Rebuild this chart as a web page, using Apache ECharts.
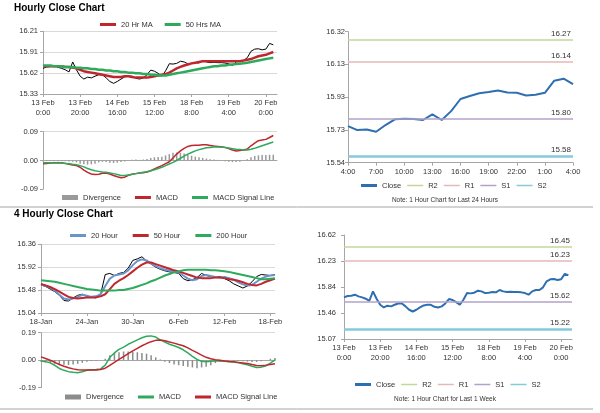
<!DOCTYPE html>
<html><head><meta charset="utf-8">
<script src="https://cdn.jsdelivr.net/npm/echarts@6/dist/echarts.min.js"></script>
<style>html,body{margin:0;padding:0;background:#fff}#c{width:600px;height:413px}</style>
</head><body><div id="c"></div>
<script>
// ---------- data ----------
// hourly axis (2-hour samples), 13 Feb 0:00 .. 20 Feb 4:00
const hourTicks = ['13 Feb\n0:00','13 Feb\n20:00','14 Feb\n16:00','15 Feb\n12:00','18 Feb\n8:00','19 Feb\n4:00','20 Feb\n0:00'];
const hourlyClose = [15.69,15.71,15.715,15.73,15.705,15.69,15.67,15.64,15.78,15.67,
  15.58,15.54,15.566,15.556,15.58,15.60,15.60,15.556,15.506,15.48,
  15.506,15.54,15.57,15.58,15.58,15.55,15.54,15.556,15.60,15.665,
  15.65,15.62,15.58,15.655,15.755,15.75,15.76,15.79,15.78,15.755,
  15.76,15.77,15.765,15.80,15.78,15.77,15.775,15.77,15.77,15.765,
  15.755,15.73,15.78,15.80,15.80,15.84,15.93,15.96,15.965,15.95,
  15.96,16.04,16.02];
const ma20Hr = [15.72,15.72,15.72,15.72,15.72,15.72,15.71,15.71,15.70,15.69,
  15.67,15.65,15.64,15.63,15.62,15.61,15.60,15.59,15.58,15.57,
  15.57,15.57,15.58,15.58,15.57,15.56,15.56,15.56,15.56,15.57,
  15.58,15.59,15.60,15.61,15.63,15.66,15.69,15.71,15.73,15.745,
  15.76,15.77,15.78,15.79,15.79,15.79,15.79,15.79,15.79,15.79,
  15.79,15.79,15.79,15.79,15.80,15.81,15.82,15.84,15.86,15.87,
  15.88,15.90,15.92];
const ma50Hr = [15.73,15.73,15.73,15.72,15.72,15.72,15.71,15.71,15.71,15.70,
  15.70,15.69,15.69,15.68,15.68,15.67,15.67,15.66,15.66,15.65,
  15.65,15.64,15.64,15.63,15.63,15.62,15.62,15.61,15.61,15.60,
  15.60,15.59,15.59,15.59,15.60,15.61,15.62,15.63,15.64,15.65,
  15.66,15.67,15.68,15.69,15.70,15.71,15.72,15.72,15.73,15.73,
  15.74,15.745,15.75,15.755,15.76,15.77,15.78,15.79,15.80,15.81,
  15.82,15.83,15.84];
const macdHr = [-0.010,-0.009,-0.008,-0.007,-0.007,-0.007,-0.009,-0.012,-0.014,-0.016,
  -0.021,-0.030,-0.037,-0.042,-0.044,-0.043,-0.040,-0.039,-0.042,-0.047,
  -0.051,-0.054,-0.052,-0.046,-0.043,-0.041,-0.039,-0.038,-0.036,-0.032,
  -0.026,-0.021,-0.016,-0.010,-0.004,0.008,0.020,0.030,0.038,0.044,
  0.047,0.048,0.048,0.049,0.049,0.047,0.045,0.044,0.043,0.041,
  0.037,0.033,0.030,0.031,0.033,0.036,0.046,0.054,0.062,0.064,
  0.066,0.072,0.078];
const signalHr = [-0.007,-0.007,-0.007,-0.008,-0.008,-0.008,-0.009,-0.010,-0.012,-0.013,
  -0.016,-0.020,-0.025,-0.029,-0.032,-0.034,-0.036,-0.037,-0.039,-0.041,
  -0.044,-0.047,-0.047,-0.045,-0.043,-0.041,-0.039,-0.037,-0.035,-0.032,
  -0.029,-0.025,-0.021,-0.016,-0.011,-0.006,0.000,0.007,0.014,0.020,
  0.025,0.030,0.034,0.037,0.040,0.041,0.042,0.042,0.042,0.041,
  0.039,0.037,0.035,0.034,0.033,0.033,0.035,0.038,0.042,0.046,
  0.050,0.054,0.058];
const divHr = [-0.002,-0.002,-0.002,-0.002,-0.002,-0.002,-0.002,-0.003,-0.004,-0.006,
  -0.010,-0.012,-0.013,-0.012,-0.010,-0.006,-0.004,-0.005,-0.007,-0.008,
  -0.007,-0.005,-0.003,0.000,0.002,0.003,0.002,0.003,0.005,0.008,
  0.010,0.011,0.012,0.016,0.020,0.024,0.025,0.024,0.022,0.018,
  0.015,0.012,0.010,0.008,0.006,0.004,0.003,0.002,0.000,-0.002,
  -0.004,-0.005,-0.005,-0.004,-0.001,0.004,0.010,0.014,0.016,0.017,
  0.017,0.018,0.018];

// 4-hourly axis
const fourHourTicks = ['18-Jan','24-Jan','30-Jan','6-Feb','12-Feb','18-Feb'];
const close4h = [15.58,15.55,15.50,15.45,15.38,15.28,15.27,15.33,15.38,15.40,
  15.36,15.35,15.33,15.40,15.78,15.80,15.76,15.80,15.82,15.90,
  16.05,16.08,16.12,16.04,15.98,15.92,15.88,15.85,15.83,15.82,
  15.80,15.70,15.66,15.68,15.72,15.80,15.76,15.74,15.72,15.74,
  15.70,15.66,15.60,15.56,15.52,15.56,15.64,15.74,15.78,15.77,
  15.76,15.78];
const ma20Hour = [15.59,15.56,15.53,15.47,15.39,15.32,15.30,15.32,15.35,15.39,
  15.37,15.35,15.36,15.40,15.56,15.70,15.76,15.78,15.80,15.86,
  15.96,16.04,16.07,16.05,15.99,15.94,15.90,15.87,15.85,15.84,
  15.82,15.76,15.70,15.67,15.69,15.75,15.77,15.75,15.73,15.72,
  15.73,15.71,15.68,15.63,15.59,15.57,15.58,15.64,15.70,15.74,
  15.76,15.77];
const ma50Hour = [15.60,15.57,15.54,15.50,15.45,15.40,15.35,15.33,15.32,15.33,
  15.34,15.34,15.34,15.36,15.40,15.50,15.60,15.66,15.71,15.77,
  15.84,15.91,15.97,16.01,16.01,15.98,15.95,15.92,15.89,15.86,
  15.84,15.81,15.78,15.75,15.72,15.71,15.71,15.71,15.72,15.72,
  15.71,15.69,15.68,15.66,15.63,15.60,15.58,15.57,15.60,15.64,
  15.67,15.70];
const ma200Hour = [15.67,15.66,15.65,15.64,15.62,15.60,15.58,15.56,15.54,15.52,
  15.50,15.49,15.48,15.47,15.47,15.47,15.47,15.48,15.48,15.50,
  15.52,15.55,15.58,15.61,15.65,15.68,15.72,15.76,15.79,15.82,
  15.84,15.86,15.87,15.87,15.87,15.87,15.87,15.86,15.86,15.85,
  15.84,15.83,15.81,15.79,15.77,15.75,15.73,15.71,15.69,15.69,
  15.70,15.71];
const macd4h = [-0.005,-0.010,-0.018,-0.035,-0.057,-0.070,-0.079,-0.084,-0.086,-0.080,
  -0.070,-0.066,-0.064,-0.060,-0.034,0.020,0.050,0.075,0.090,0.110,
  0.125,0.140,0.155,0.166,0.168,0.160,0.140,0.125,0.110,0.100,
  0.088,0.072,0.050,0.027,0.005,-0.008,-0.011,-0.008,-0.005,-0.005,
  -0.008,-0.010,-0.013,-0.017,-0.024,-0.032,-0.042,-0.050,-0.048,-0.040,
  -0.020,0.002];
const signal4h = [0.023,0.012,0.000,-0.015,-0.030,-0.042,-0.052,-0.060,-0.066,-0.068,
  -0.068,-0.068,-0.067,-0.064,-0.055,-0.035,-0.015,0.005,0.025,0.045,
  0.065,0.082,0.100,0.115,0.128,0.137,0.140,0.135,0.126,0.118,
  0.108,0.100,0.085,0.068,0.052,0.035,0.020,0.010,0.003,0.000,
  -0.005,-0.009,-0.011,-0.015,-0.019,-0.023,-0.030,-0.036,-0.038,-0.034,
  -0.029,-0.024];
const div4h = [-0.010,-0.015,-0.020,-0.025,-0.030,-0.032,-0.033,-0.030,-0.025,-0.018,
  -0.010,-0.005,-0.003,0.000,0.010,0.035,0.050,0.055,0.060,0.060,
  0.058,0.055,0.050,0.045,0.035,0.020,0.005,-0.010,-0.020,-0.030,
  -0.035,-0.040,-0.045,-0.050,-0.055,-0.050,-0.045,-0.035,-0.020,-0.010,
  -0.005,0.000,-0.003,-0.005,-0.008,-0.010,-0.012,-0.012,-0.008,0.000,
  0.010,0.015];

// last 24 hours
const dayTicks = ['4:00','7:00','10:00','13:00','16:00','19:00','22:00','1:00','4:00'];
const dayClose = [15.758,15.734,15.738,15.724,15.764,15.798,15.802,15.800,15.794,15.828,
  15.794,15.847,15.919,15.937,15.953,15.960,15.970,15.958,15.956,15.940,
  15.944,15.956,16.028,16.040,16.008];

// support / resistance levels
const levelNames = ['R2','R1','S1','S2'];
const levelsDay = [16.27,16.14,15.80,15.58];
const levelsWeek = [16.45,16.23,15.62,15.22];

// y tick labels
const yHourly = ['15.33','15.62','15.91','16.21'];
const yMacdHr = ['-0.09','0.00','0.09'];
const y4h = ['15.04','15.48','15.92','16.36'];
const yMacd4h = ['-0.19','0.00','0.19'];
const yDay = ['15.54','15.73','15.93','16.13','16.32'];
const yWeek = ['15.07','15.46','15.84','16.23','16.62'];

// ---------- styling ----------
const FONT = '"Liberation Sans", Arial, sans-serif';
const TXT = '#333333';
const AXC = '#a6a6a6';
const GRIDC = '#d9d9d9';
const RED = '#c0262d';
const GREEN = '#2eaa5c';
const BLUE = '#6b94c8';
const CLOSE_BLUE = '#2f6fb0';
const LEVEL_COLORS = ['#c3d69b','#e6b9b8','#b3a2c7','#86c9da'];
const LEVEL_WIDTH = [1.5,1.5,1.5,2.5];
const ICON_THICK = 'path://M0,0H16V3H0Z';
const ICON_THIN = 'path://M0,0H16V1.5H0Z';

function cats(n){ return Array.from({length:n},(_,i)=>String(i)); }

function catAxis(grid, n, ticks, step, showLabels){
  return {
    type:'category', gridIndex:grid, data:cats(n), boundaryGap:false,
    axisLine:{show:true, onZero:true, lineStyle:{color:AXC}},
    axisTick:{show:showLabels, interval:step-1, length:3, lineStyle:{color:AXC}},
    axisLabel:{show:showLabels, interval:step-1,
      formatter:(v,i)=> (i%step===0 && ticks[i/step]!==undefined) ? ticks[i/step] : '',
      fontSize:7.5, color:TXT, fontFamily:FONT, margin:4, lineHeight:10},
    splitLine:{show:false}
  };
}
function valAxis(grid, labels, min, max, step, split, margin){
  return {
    type:'value', gridIndex:grid, min:min, max:max, interval:step,
    axisLine:{show:true, lineStyle:{color:AXC}},
    axisTick:{show:true, length:3, lineStyle:{color:AXC}},
    axisLabel:{formatter: v => { const k=Math.round((v-min)/step); return labels[k]!==undefined?labels[k]:''; },
      fontSize:7.5, color:TXT, fontFamily:FONT, margin:margin},
    splitLine: split ? {show:true, lineStyle:{color:split}} : {show:false}
  };
}
function line(name, data, xi, color, width){
  return {type:'line', name:name, data:data, xAxisIndex:xi, yAxisIndex:xi, symbol:'none',
    lineStyle:{color:color, width:width}, itemStyle:{color:color}, animation:false};
}
function bars(name, data, xi, color){
  return {type:'bar', name:name, data:data, xAxisIndex:xi, yAxisIndex:xi, barWidth:1.5,
    itemStyle:{color:color}, animation:false};
}
function levelSeries(suffix, xi, levels){
  return levelNames.map((n,k)=>({
    type:'line', name:n+suffix, data:[], xAxisIndex:xi, yAxisIndex:xi, symbol:'none',
    lineStyle:{color:LEVEL_COLORS[k], width:1.5}, itemStyle:{color:LEVEL_COLORS[k]},
    markLine:{silent:true, symbol:'none', animation:false,
      data:[{yAxis:levels[k]}],
      lineStyle:{color:LEVEL_COLORS[k], width:LEVEL_WIDTH[k], type:'solid'},
      label:{show:true, position:'insideEndTop', formatter:levels[k].toFixed(2),
        fontSize:8, color:TXT, fontFamily:FONT, distance:2}}
  }));
}
// items: [name, icon]
function legend(left, top, items, gap){
  return {left:left, top:top, padding:0, itemGap:gap, itemWidth:16, itemHeight:5,
    symbolKeepAspect:true, selectedMode:false,
    data: items.map(it => ({name:it[0], icon:it[1]})),
    formatter: n => n.split('|')[0],
    textStyle:{fontSize:7.5, color:TXT, fontFamily:FONT}};
}

const option = {
  animation:false,
  textStyle:{fontFamily:FONT},
  title:[
    {text:'Hourly Close Chart', left:14, top:3, padding:0, textStyle:{fontSize:10, fontWeight:'bold', color:'#000', fontFamily:FONT}},
    {text:'4 Hourly Close Chart', left:14, top:209.5, padding:0, textStyle:{fontSize:10, fontWeight:'bold', color:'#000', fontFamily:FONT}}
  ],
  grid:[
    {left:43, top:31.3, width:234, height:62.7},
    {left:43, top:131.7, width:234, height:57.6},
    {left:41, top:244.3, width:234, height:68.7},
    {left:41, top:332.7, width:234, height:55},
    {left:348, top:31.6, width:225, height:131.1},
    {left:344, top:235, width:228, height:104}
  ],
  xAxis:[
    catAxis(0, 64, hourTicks, 10, true),
    catAxis(1, 64, hourTicks, 10, false),
    catAxis(2, 52, fourHourTicks, 10, true),
    catAxis(3, 52, fourHourTicks, 10, false),
    catAxis(4, 25, dayTicks, 3, true),
    catAxis(5, 64, hourTicks, 10, true)
  ],
  yAxis:[
    valAxis(0, yHourly, 15.33, 16.21, 0.88/3, GRIDC, 5),
    valAxis(1, yMacdHr, -0.09, 0.09, 0.09, ['rgba(0,0,0,0)','rgba(0,0,0,0)',GRIDC], 5),
    valAxis(2, y4h, 15.04, 16.36, 0.44, GRIDC, 5),
    valAxis(3, yMacd4h, -0.19, 0.19, 0.19, ['rgba(0,0,0,0)','rgba(0,0,0,0)',GRIDC], 5),
    valAxis(4, yDay, 15.54, 16.32, 0.195, null, 3),
    valAxis(5, yWeek, 15.07, 16.62, 0.3875, null, 8)
  ],
  legend:[
    legend(100, 20.5, [['20 Hr MA',ICON_THICK],['50 Hrs MA',ICON_THICK]], 12),
    legend(62, 193.5, [['Divergence','rect'],['MACD',ICON_THICK],['MACD Signal Line',ICON_THICK]], 14),
    legend(70, 231.5, [['20 Hour',ICON_THICK],['50 Hour',ICON_THICK],['200 Hour',ICON_THICK]], 15),
    legend(65, 393, [['Divergence|b','rect'],['MACD|b',ICON_THICK],['MACD Signal Line|b',ICON_THICK]], 14),
    legend(361, 181.5, [['Close|d',ICON_THICK],['R2|d',ICON_THIN],['R1|d',ICON_THIN],['S1|d',ICON_THIN],['S2|d',ICON_THIN]], 6),
    legend(355, 380.5, [['Close|w',ICON_THICK],['R2|w',ICON_THIN],['R1|w',ICON_THIN],['S1|w',ICON_THIN],['S2|w',ICON_THIN]], 6)
  ],
  series:[
    line('Price|h', hourlyClose, 0, '#000000', 1),
    line('20 Hr MA', ma20Hr, 0, RED, 2.5),
    line('50 Hrs MA', ma50Hr, 0, GREEN, 2.5),
    bars('Divergence', divHr, 1, '#9a9a9a'),
    line('MACD', macdHr, 1, RED, 1.5),
    line('MACD Signal Line', signalHr, 1, GREEN, 1.5),
    line('Price|4', close4h, 2, '#000000', 1),
    line('20 Hour', ma20Hour, 2, BLUE, 2),
    line('50 Hour', ma50Hour, 2, RED, 2),
    line('200 Hour', ma200Hour, 2, GREEN, 2),
    bars('Divergence|b', div4h, 3, '#8c8c8c'),
    line('MACD|b', macd4h, 3, GREEN, 1.5),
    line('MACD Signal Line|b', signal4h, 3, RED, 1.5),
    line('Close|d', dayClose, 4, CLOSE_BLUE, 2),
    ...levelSeries('|d', 4, levelsDay),
    line('Close|w', hourlyClose, 5, CLOSE_BLUE, 2),
    ...levelSeries('|w', 5, levelsWeek)
  ],
  graphic:[
    {type:'text', x:445, y:200, style:{text:'Note: 1 Hour Chart for Last 24 Hours', align:'center', verticalAlign:'middle', fontSize:6.5, fontFamily:FONT, fill:TXT}},
    {type:'text', x:445, y:399, style:{text:'Note: 1 Hour Chart for Last 1 Week', align:'center', verticalAlign:'middle', fontSize:6.5, fontFamily:FONT, fill:TXT}},
    {type:'line', shape:{x1:0, y1:207, x2:593, y2:207}, style:{stroke:'#a6a6a6', lineWidth:1}},
    {type:'line', shape:{x1:0, y1:409, x2:593, y2:409}, style:{stroke:'#a6a6a6', lineWidth:1}}
  ]
};
const chart = echarts.init(document.getElementById('c'), null, {renderer:'canvas'});
chart.setOption(option);
</script></body></html>
